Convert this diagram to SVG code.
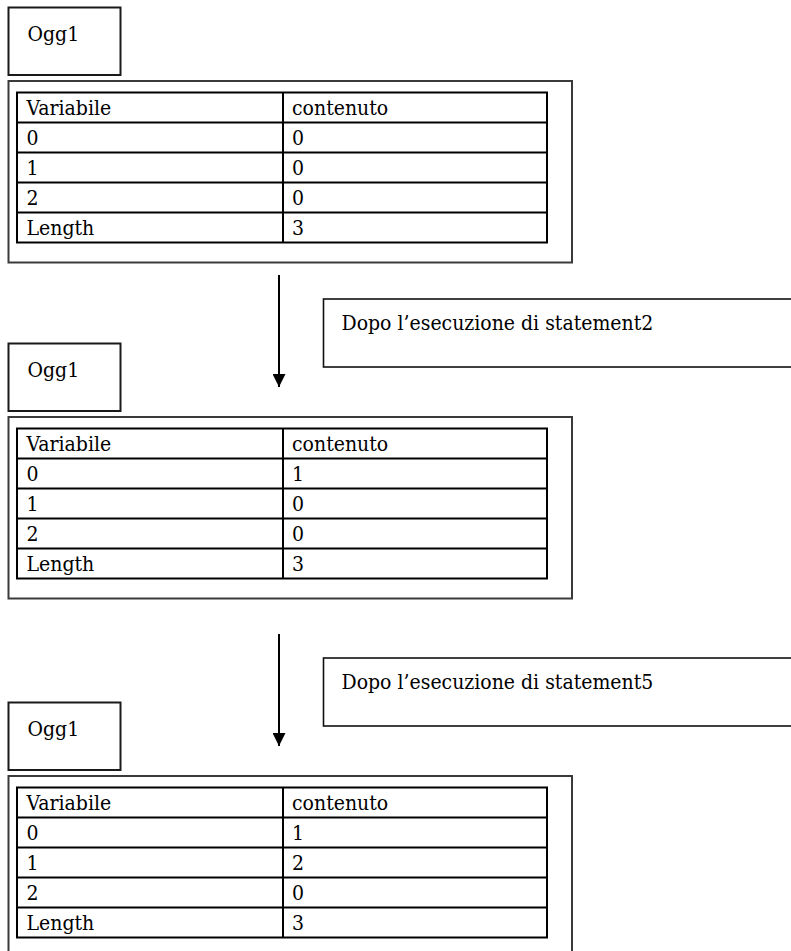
<svg xmlns="http://www.w3.org/2000/svg" width="791" height="951" viewBox="0 0 791 951" font-family="'DejaVu Serif Condensed', 'DejaVu Serif', serif" font-size="21">
  <style>
    .name { fill: #fff; stroke: #1a1a1a; stroke-width: 2; }
    .frame { fill: #fff; stroke: #3a3a3a; stroke-width: 2; }
    .grid { fill: none; stroke: #000; stroke-width: 2; }
    .note { fill: #fff; stroke: #111; stroke-width: 1.6; }
    .flow { stroke: #000; stroke-width: 2; fill: none; }
  </style>
  <defs>
    <marker id="head" markerWidth="13" markerHeight="13" refX="13" refY="6.5" orient="auto" markerUnits="userSpaceOnUse">
      <path d="M0,0 L13,6.5 L0,13 Z" fill="#000"/>
    </marker>
    <!-- table grid shared by all three states -->
    <g id="grid">
      <rect class="grid" x="17" y="92.5" width="530" height="150"/>
      <path class="grid" d="M283,92.5 V242.5 M17,122.5 H547 M17,152.5 H547 M17,182.5 H547 M17,212.5 H547"/>
    </g>
  </defs>

  <!-- state 1 -->
  <g id="state1">
    <g id="ogg1-a">
      <rect class="name" x="8.5" y="7.5" width="112" height="67.5"/>
      <text x="27.5" y="40.5">Ogg1</text>
    </g>
    <g id="table-a">
      <rect class="frame" x="8.5" y="81" width="563.5" height="181.5"/>
      <use href="#grid"/>
      <text x="26.5" y="115">Variabile</text><text x="292" y="115">contenuto</text>
      <text x="26.5" y="145">0</text><text x="292" y="145">0</text>
      <text x="26.5" y="175">1</text><text x="292" y="175">0</text>
      <text x="26.5" y="205">2</text><text x="292" y="205">0</text>
      <text x="26.5" y="235">Length</text><text x="292" y="235">3</text>
    </g>
  </g>

  <!-- state 2 -->
  <g id="state2" transform="translate(0,336)">
    <g id="ogg1-b">
      <rect class="name" x="8.5" y="7.5" width="112" height="67.5"/>
      <text x="27.5" y="40.5">Ogg1</text>
    </g>
    <g id="table-b">
      <rect class="frame" x="8.5" y="81" width="563.5" height="181.5"/>
      <use href="#grid"/>
      <text x="26.5" y="115">Variabile</text><text x="292" y="115">contenuto</text>
      <text x="26.5" y="145">0</text><text x="292" y="145">1</text>
      <text x="26.5" y="175">1</text><text x="292" y="175">0</text>
      <text x="26.5" y="205">2</text><text x="292" y="205">0</text>
      <text x="26.5" y="235">Length</text><text x="292" y="235">3</text>
    </g>
  </g>

  <!-- state 3 -->
  <g id="state3" transform="translate(0,695)">
    <g id="ogg1-c">
      <rect class="name" x="8.5" y="7.5" width="112" height="67.5"/>
      <text x="27.5" y="40.5">Ogg1</text>
    </g>
    <g id="table-c">
      <rect class="frame" x="8.5" y="81" width="563.5" height="200"/>
      <use href="#grid"/>
      <text x="26.5" y="115">Variabile</text><text x="292" y="115">contenuto</text>
      <text x="26.5" y="145">0</text><text x="292" y="145">1</text>
      <text x="26.5" y="175">1</text><text x="292" y="175">2</text>
      <text x="26.5" y="205">2</text><text x="292" y="205">0</text>
      <text x="26.5" y="235">Length</text><text x="292" y="235">3</text>
    </g>
  </g>

  <!-- step notes -->
  <g id="note1">
    <rect class="note" x="323.5" y="299" width="480" height="68"/>
    <text x="341.5" y="330">Dopo l’esecuzione di statement2</text>
  </g>
  <g id="note2">
    <rect class="note" x="323.5" y="658" width="480" height="68"/>
    <text x="341.5" y="689">Dopo l’esecuzione di statement5</text>
  </g>

  <!-- transitions -->
  <g id="connectors">
    <line class="flow" x1="279" y1="275" x2="279" y2="387" marker-end="url(#head)"/>
    <line class="flow" x1="279" y1="634" x2="279" y2="746" marker-end="url(#head)"/>
  </g>
</svg>
